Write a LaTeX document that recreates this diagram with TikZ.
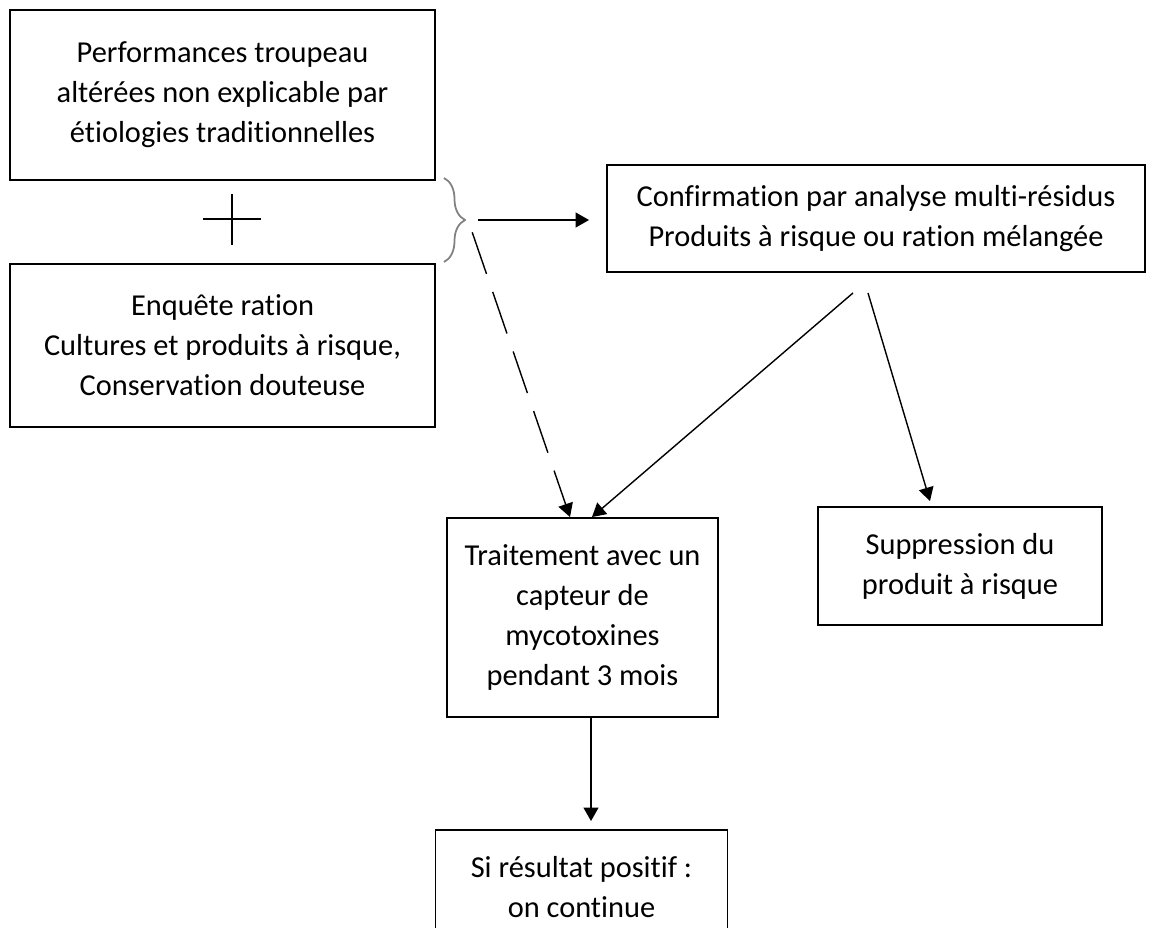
\documentclass[tikz,border=0pt]{standalone}
\usepackage{fontspec}
\setmainfont[Ligatures=NoCommon]{Carlito}
\usepackage{tikz}
\usetikzlibrary{arrows.meta,positioning,decorations.pathreplacing}

\begin{document}
\begin{tikzpicture}[
  node distance=1.64cm and 1.5cm,
  box/.style={draw,line width=1.1pt,align=center,inner sep=0pt,font=\fontsize{17.3}{22.8}\selectfont},
  arrow/.style={-{Triangle[length=0.27cm,width=0.3cm]},line width=0.8pt},
  dasharrow/.style={arrow,dash pattern=on 0.88cm off 0.38cm}
]
\useasboundingbox (0,0) rectangle (23,-18.56);
\clip (0,0) rectangle (23,-18.56);
\node[box,minimum width=8.5cm,minimum height=3.4cm] (perf) at (4.45,-1.9) {Performances troupeau\\altérées non explicable par\\étiologies traditionnelles};
\node[box,minimum width=8.5cm,minimum height=3.26cm,below=of perf] (enq) {Enquête ration\\Cultures et produits à risque,\\Conservation douteuse};
\node[box,minimum width=10.76cm,minimum height=2.14cm] (conf) at (17.52,-4.37) {Confirmation par analyse multi-résidus\\Produits à risque ou ration mélangée};
\node[box,minimum width=5.42cm,minimum height=3.98cm] (trt) at (11.65,-12.35) {Traitement avec un\\capteur de\\mycotoxines\\pendant 3 mois};
\node[box,minimum width=5.68cm,minimum height=2.36cm] (sup) at (19.2,-11.32) {Suppression du\\produit à risque};
\node[box,minimum width=5.84cm,minimum height=2.3cm] (res) at (11.63,-17.75) {Si résultat positif :\\on continue};
\coordinate (plus) at (4.64,-4.38);
\draw[line width=1.1pt] ([xshift=-0.58cm]plus) -- ([xshift=0.58cm]plus);
\draw[line width=1.1pt] ([yshift=0.5cm]plus) -- ([yshift=-0.52cm]plus);
\coordinate (btop) at (8.88,-3.56);
\coordinate (bbot) at (8.88,-5.24);
\coordinate (btip) at (9.36,-4.4);
\draw[decorate,decoration={brace,amplitude=0.42cm},line width=1pt,gray] (btop) -- (bbot);
\draw[arrow,shorten <=0.2cm,shorten >=0.34cm] (btip) -- (btip -| conf.west);
\draw[dasharrow,shorten <=0.26cm] (btip) -- ([xshift=-0.25cm]trt.north);
\draw[arrow] ([xshift=-0.46cm,yshift=-0.4cm]conf.south) -- ([xshift=0.19cm]trt.north);
\draw[arrow] ([xshift=-0.16cm,yshift=-0.4cm]conf.south) -- ([xshift=-0.6cm,yshift=0.1cm]sup.north);
\draw[arrow,shorten >=0.16cm] ([xshift=0.17cm]trt.south) -- ([xshift=0.17cm]trt.south |- res.north);
\end{tikzpicture}
\end{document}
